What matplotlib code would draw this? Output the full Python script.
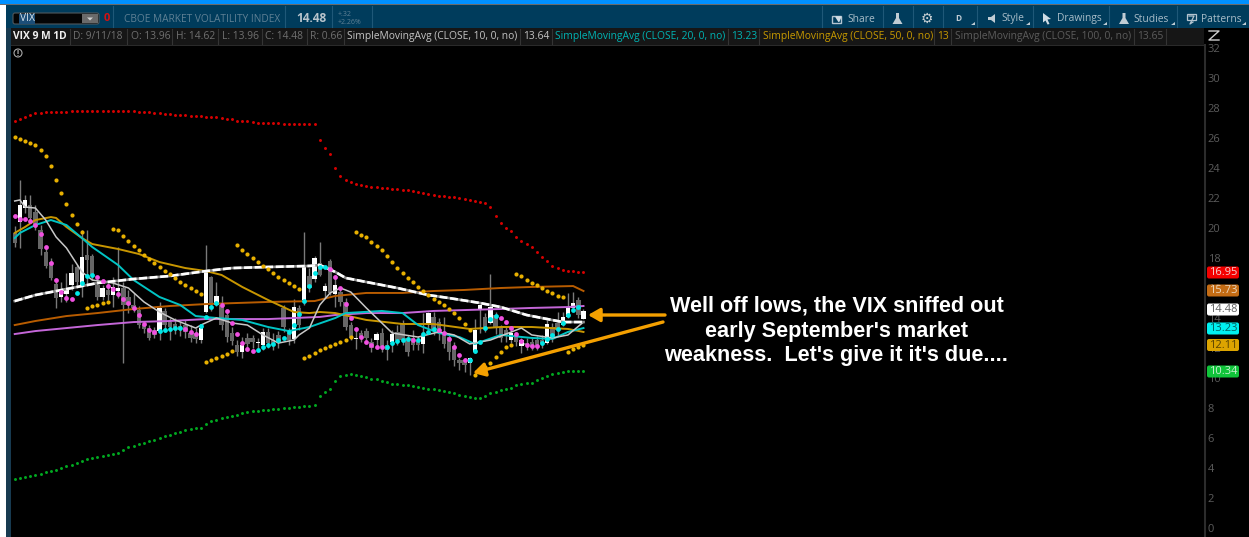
import matplotlib
matplotlib.use("Agg")
import matplotlib.pyplot as plt
from matplotlib.patches import Rectangle, FancyBboxPatch, Circle, Polygon

plt.rcParams['font.family'] = ['Open Sans', 'DejaVu Sans']

# Candles (VIX, daily)
candle_open = [19.67,20.4,21.33,21.53,21.07,19.87,18.4,17.73,16.27,15.4,15.6,16.2,17.4,16.2,18.2,18.13,16.2,15.4,15.87,15.53,
    15.8,16.0,15.4,14.87,14.53,13.53,13.33,13.2,13.13,14.47,13.73,13.6,13.47,13.53,13.0,13.0,12.53,14.4,16.73,14.87,
    14.87,14.2,13.0,12.2,11.73,12.67,12.67,12.33,12.2,13.07,12.53,12.87,14.67,13.0,12.6,14.67,15.2,16.8,16.6,17.67,
    15.8,17.8,15.6,15.73,15.07,13.53,12.6,13.0,13.13,12.4,12.53,13.0,12.2,12.4,13.07,13.67,12.67,12.67,12.53,12.27,
    13.67,14.07,13.73,13.07,12.73,12.13,11.2,11.2,11.0,11.73,14.53,14.07,13.67,14.2,13.33,13.2,12.53,12.87,12.13,12.33,
    12.4,12.53,12.53,12.33,13.4,13.67,13.53,14.07,14.67,15.2,13.96]
candle_high = [20.13,23.2,22.2,22.2,21.53,20.2,18.73,18.0,16.53,16.4,17.0,17.6,17.53,19.87,19.87,18.27,16.73,16.2,16.33,16.73,
    18.73,16.4,15.87,15.67,14.8,13.73,13.53,13.4,15.07,14.67,14.0,14.0,13.73,13.87,13.53,13.33,13.47,18.87,16.8,16.4,
    15.47,14.4,13.4,12.53,12.73,13.0,12.87,12.67,13.33,13.33,13.0,13.13,14.87,13.33,15.27,14.87,19.73,17.33,18.13,19.07,
    16.33,17.93,16.87,16.0,15.33,13.73,13.33,13.2,13.33,12.67,13.07,13.33,12.53,13.2,13.53,13.87,12.87,13.2,12.8,14.33,
    14.4,14.4,14.0,14.07,13.0,12.4,11.33,11.33,11.4,13.93,14.93,14.33,16.93,14.4,13.53,13.4,13.4,13.07,12.67,12.67,
    12.67,12.8,12.87,13.87,13.67,14.4,14.4,15.67,15.73,15.4,14.62]
candle_low = [18.73,18.67,21.0,20.4,19.87,18.2,17.33,16.53,14.67,15.07,15.07,15.87,16.07,15.4,16.2,16.53,15.2,15.2,15.2,14.73,
    15.33,11.0,14.33,14.4,13.33,13.0,12.53,12.67,12.53,13.07,12.53,12.93,12.8,12.67,12.4,12.33,12.33,14.33,14.47,14.8,
    13.2,12.4,12.2,11.47,11.33,11.87,12.0,11.73,11.87,12.0,11.87,12.0,13.07,12.2,12.33,13.2,14.87,15.73,16.4,16.8,
    15.33,15.53,14.73,14.8,13.2,12.53,11.93,12.4,12.33,11.73,12.0,11.73,11.2,11.73,12.2,12.2,11.47,11.87,11.87,11.67,
    13.2,12.87,12.53,12.0,11.2,10.8,10.53,10.4,10.2,11.67,13.0,13.07,13.6,12.93,12.4,12.4,12.33,12.13,11.67,11.87,
    11.87,11.87,12.0,12.27,12.4,12.8,13.47,14.0,14.53,14.0,13.96]
candle_close = [19.0,21.53,21.87,20.67,20.2,18.6,17.47,16.67,15.33,15.73,16.0,17.0,16.4,18.07,17.87,16.87,15.4,16.0,15.53,16.07,
    16.0,14.87,14.87,14.67,13.53,13.27,12.67,12.87,14.67,13.53,13.4,13.2,13.2,13.07,12.67,12.6,13.33,17.07,14.87,15.47,
    13.53,12.73,12.47,11.73,12.2,12.27,12.4,12.4,13.07,12.33,12.2,12.4,13.4,12.53,14.73,13.53,17.47,16.0,18.0,16.87,
    16.13,15.67,16.2,15.07,13.4,12.67,12.67,12.67,12.67,12.0,12.93,12.07,11.87,12.93,12.53,12.53,11.73,12.2,12.2,12.8,
    14.33,13.2,13.0,12.27,11.73,11.2,11.0,10.87,11.33,13.2,14.87,13.33,14.73,13.33,12.67,12.87,13.0,12.4,12.53,12.2,
    12.07,12.07,12.33,13.6,12.73,13.2,14.07,14.73,15.0,14.2,14.48]

# Dotted upper and lower bands, one value per bar
band_upper = [27.16,27.29,27.42,27.53,27.64,27.69,27.73,27.73,27.73,27.73,27.73,27.78,27.78,27.78,27.80,27.82,27.82,27.82,27.82,27.82,
    27.82,27.82,27.82,27.78,27.73,27.73,27.71,27.69,27.67,27.62,27.58,27.56,27.56,27.51,27.47,27.47,27.44,27.42,27.40,27.38,
    27.31,27.27,27.24,27.16,27.16,27.13,27.07,27.02,27.02,27.02,27.02,27.02,26.96,26.96,26.96,26.91,26.91,26.91,26.91,
    25.87,25.33,24.93,24.0,23.47,23.2,23.07,22.93,22.87,22.8,22.73,22.73,22.67,22.67,22.6,22.6,22.53,22.53,22.47,22.4,
    22.33,22.27,22.2,22.13,22.13,22.07,22.07,22.0,21.93,21.87,21.8,21.73,21.67,21.4,20.8,
    20.33,20.0,19.8,19.4,19.13,18.93,18.73,18.4,18.07,17.8,17.47,17.33,17.2,17.13,17.13,17.07,17.07]
band_lower = [3.27,3.33,3.40,3.47,3.53,3.60,3.73,3.80,3.87,4.00,4.13,4.20,4.33,4.47,4.60,4.67,4.73,4.80,4.87,4.93,
    5.00,5.20,5.40,5.47,5.60,5.67,5.80,5.87,6.00,6.13,6.20,6.33,6.40,6.53,6.60,6.67,6.67,6.93,7.13,7.20,
    7.33,7.40,7.47,7.53,7.67,7.73,7.80,7.80,7.87,7.87,7.93,7.93,8.0,8.0,8.07,8.07,8.13,8.13,8.2,
    8.8,9.07,9.27,9.8,10.13,10.2,10.27,10.2,10.13,10.07,9.93,9.93,9.8,9.73,9.6,9.6,9.53,9.53,9.47,9.4,
    9.33,9.27,9.27,9.2,9.13,9.07,9.0,8.87,8.8,8.73,8.67,8.67,8.8,9.0,9.07,9.2,9.27,9.33,9.53,9.6,
    9.67,9.67,9.87,10.0,10.13,10.27,10.33,10.4,10.47,10.47,10.47,10.47]

# Parabolic stop dots, one value per bar
stop_dots = [26.07,25.93,25.8,25.67,25.53,25.2,24.8,24.13,23.2,22.33,21.6,20.87,20.27,19.73,
    14.67,14.8,14.87,15.0,15.07,
    19.93,19.87,19.47,19.13,18.8,18.53,18.2,17.93,17.67,17.4,17.13,16.93,16.67,16.4,16.2,16.0,15.8,15.6,
    11.07,11.2,11.33,11.47,11.6,11.8,
    18.87,18.53,18.27,18.0,17.73,17.47,17.27,17.0,16.73,16.53,16.33,16.13,15.93,
    11.33,11.47,11.67,11.87,12.0,12.13,12.27,12.4,12.53,12.73,
    19.73,19.53,19.4,19.07,18.8,18.53,18.13,17.73,17.33,17.0,16.67,16.4,16.07,15.8,15.53,15.27,15.07,14.87,14.6,14.33,14.0,13.6,13.2,
    10.2,10.47,10.73,11.0,11.4,11.73,12.07,12.2,
    16.93,16.8,16.53,16.33,16.2,16.0,15.8,15.67,15.47,15.4,
    11.73,11.93,12.07,12.2]

# Pink and cyan dots on the candles
pink_bars = [*range(0, 12), *range(16, 28), 33, 34, 35, *range(40, 47), *range(61, 72), 77, *range(82, 88), *range(94, 102)]
pink_vals = [20.8,20.6,20.6,20.47,20.2,19.6,18.73,17.67,16.53,15.73,15.33,15.27,
    16.73,16.47,16.13,15.93,15.6,15.27,15.0,14.67,14.2,13.6,13.2,13.07,
    13.27,13.07,12.93,
    14.87,14.47,13.67,12.93,12.33,11.93,11.8,
    17.27,16.73,16.0,14.93,14.0,13.27,12.73,12.4,12.2,12.07,12.07,
    12.53,
    13.2,13.0,12.6,12.07,11.53,11.2,
    14.0,13.73,13.33,12.93,12.47,12.2,12.13,12.13]
cyan_bars = [*range(12, 16), *range(28, 33), *range(36, 40), *range(47, 61), *range(72, 77), *range(78, 82), *range(88, 94), *range(102, 110)]
cyan_vals = [15.67,16.33,16.8,16.87,
    13.13,13.2,13.27,13.33,13.33,
    13.47,14.07,14.73,15.0,
    11.87,12.07,12.2,12.27,12.53,12.67,13.07,13.53,14.27,15.13,16.13,17.0,17.4,17.4,
    12.07,12.33,12.47,12.53,12.6,
    12.53,12.93,13.07,13.27,
    11.2,11.8,12.4,13.33,13.93,14.13,
    12.33,12.6,12.87,13.27,13.67,14.2,14.53,14.73]

# Moving averages, read at a handful of bars each
sma10_bars = [0,1,2,4,6,8,10,13,15,19,22,25,28,31,35,36,39,42,45,48,51,54,55,57,59,61,63,65,68,73,78,82,85,88,92,98,100,104,107,110]
sma10_vals = [21.8,21.87,21.4,21.33,20.53,19.4,18.67,17.07,16.53,16.33,16.0,15.07,14.4,13.87,13.33,13.53,14.0,13.67,13.53,12.87,12.33,12.53,12.87,13.33,14.87,15.67,16.0,15.73,14.67,13.0,12.73,13.07,12.87,12.27,12.53,13.33,12.87,12.67,12.87,13.73]
sma20_bars = [0,1,4,7,10,13,15,20,23,28,32,35,39,44,49,53,57,62,64,71,75,78,82,86,89,94,100,104,107,110]
sma20_vals = [19.33,19.67,20.2,20.53,20.2,19.33,18.73,17.53,16.53,15.4,14.87,14.13,14.0,13.87,13.4,13.13,13.4,14.0,14.33,14.47,14.33,13.53,13.0,12.73,12.27,12.87,12.67,12.6,13.07,13.33]
sma50_bars = [0,2,4,7,8,10,13,15,20,24,28,33,37,40,44,49,54,57,59,62,68,75,81,88,94,100,107,110]
sma50_vals = [19.67,20.07,20.53,20.73,20.67,20.07,19.33,18.93,18.6,18.27,17.73,17.33,17.13,16.87,16.07,15.2,14.4,14.33,14.4,14.33,13.87,13.6,13.6,13.27,13.4,13.4,13.27,13.07]
sma100_bars = [0,4,10,16,23,30,37,42,49,57,59,62,64,68,74,80,84,90,94,99,103,106,110]
sma100_vals = [15.13,15.53,15.93,16.33,16.6,16.8,17.13,17.33,17.4,17.47,17.53,17.07,16.67,16.4,16.0,15.53,15.33,15.0,14.73,14.2,13.93,13.73,13.73]
orange_bars = [0,4,10,16,23,30,37,49,58,62,68,75,81,87,94,100,108,110]
orange_vals = [13.53,13.8,14.13,14.33,14.6,14.8,14.93,15.07,15.13,15.47,15.67,15.67,15.8,15.87,16.0,16.07,16.13,15.8]
purple_bars = [0,4,10,16,23,30,37,49,59,62,68,75,81,87,94,100,107,110]
purple_vals = [12.93,13.13,13.33,13.53,13.73,13.8,13.93,13.93,14.07,14.2,14.33,14.33,14.47,14.53,14.6,14.67,14.73,14.8]

# Price axis
price_ticks = list(range(0, 34, 2))

# Price tags on the right: text, box colour, text colour
tag_texts = ['16.95', '15.73', '14.48', '13.23', '12.11', '10.34']
tag_colors = ['#f40000', '#c46c14', '#ffffff', '#00f0f0', '#dca400', '#10c43a']
tag_text_colors = ['#f0d0d0', '#ecd8c0', '#606060', '#006060', '#5a4400', '#c8f0d0']
tag_y = [272.5, 290.5, 309.5, 328.5, 345, 371.5]

# Study labels in the row above the chart: text, left edge, colour
info_texts = ['D: 9/11/18', 'O: 13.96', 'H: 14.62', 'L: 13.96', 'C: 14.48', 'R: 0.66',
    'SimpleMovingAvg (CLOSE, 10, 0, no)', '13.64', 'SimpleMovingAvg (CLOSE, 20, 0, no)', '13.23',
    'SimpleMovingAvg (CLOSE, 50, 0, no)', '13', 'SimpleMovingAvg (CLOSE, 100, 0, no)', '13.65']
info_x = [73, 131, 176, 222, 265, 310, 347, 523, 555, 731, 763, 937, 955, 1137]
info_colors = ['#707070'] * 6 + ['#c4c4c4', '#c4c4c4', '#00b4b4', '#00b4b4', '#c89a00', '#c89a00', '#5c5c5c', '#5c5c5c']

W, H = 1249, 537
fig = plt.figure(figsize=(W / 100, H / 100), dpi=100, facecolor='black')

# Main chart
left, right, top, bottom = 11, 1205, 45, 537
ax = fig.add_axes([left / W, 1 - bottom / H, (right - left) / W, (bottom - top) / H])
ax.set_facecolor('black')
ax.set_xlim(-0.72, 230.2)
ax.set_ylim(-0.6, 32.2)

bars = list(range(len(candle_close)))
ax.vlines(bars, candle_low, candle_high, color='#7a7a7a', lw=1, zorder=2)
for i in bars:
    up = candle_close[i] >= candle_open[i]
    ax.bar(i, abs(candle_close[i] - candle_open[i]), bottom=min(candle_open[i], candle_close[i]),
           width=0.85, color='white' if up else '#666666', zorder=3)

ax.plot(orange_bars, orange_vals, color='#b85c00', lw=1.4, zorder=4)
ax.plot(purple_bars, purple_vals, color='#c466d8', lw=1.4, zorder=4)
ax.plot(sma50_bars, sma50_vals, color='#c89600', lw=1.4, zorder=4)
ax.plot(sma20_bars, sma20_vals, color='#00c4c4', lw=1.4, zorder=4)
ax.plot(sma10_bars, sma10_vals, color='#c8c8c8', lw=1.1, zorder=4)
ax.plot(sma100_bars, sma100_vals, color='#8c8c8c', lw=1.9, zorder=4)
ax.plot(sma100_bars, sma100_vals, color='white', lw=1.9, ls=(0, (3, 1)), zorder=4)

ax.scatter(bars, band_upper, s=4.5, color='#d80000', linewidths=0, zorder=5)
ax.scatter(bars, band_lower, s=4.5, color='#00a820', linewidths=0, zorder=5)
ax.scatter(bars, stop_dots, s=9, color='#e8b000', linewidths=0, zorder=5)
ax.scatter(pink_bars, pink_vals, s=12, color='#f050e0', linewidths=0, zorder=6)
ax.scatter(cyan_bars, cyan_vals, s=12, color='#00e8e8', linewidths=0, zorder=6)

ax.set_xticks([])
ax.yaxis.tick_right()
ax.set_yticks(price_ticks)
ax.tick_params(axis='y', length=0, pad=2, labelsize=8, labelcolor='#5c5c5c')
for s in ['top', 'left', 'bottom']:
    ax.spines[s].set_visible(False)
ax.spines['right'].set_color('#2c2c2c')
ax.spines['right'].set_linewidth(1.5)

# Everything else sits on a pixel-sized overlay
ui = fig.add_axes([0, 0, 1, 1], zorder=10)
ui.set_xlim(0, W)
ui.set_ylim(H, 0)
ui.axis('off')
ui.patch.set_alpha(0)


def box(x0, y0, x1, y1, color, z=1):
    ui.add_patch(Rectangle((x0, y0), x1 - x0, y1 - y0, facecolor=color, edgecolor='none', zorder=z))


def label(x, y, s, color, size=7.4, ha='left', **kw):
    ui.text(x, y, s, color=color, fontsize=size, ha=ha, va='center', zorder=5, **kw)


# Window edges and top bands
box(0, 4, 6, H, 'white')
box(6, 28, 11, H, '#173a50')
box(0, 0, W, 4, '#0090ff')
box(0, 4, W, 5, '#6a6a6a')
box(6, 5, W, 28, '#003c5c')
box(11, 28, 1204, 45, '#161616')
box(11, 45, 1204, 46, '#2a2a2a')

# Symbol box and header text
ui.add_patch(FancyBboxPatch((13, 13), 86, 11, boxstyle='round,pad=0,rounding_size=2', facecolor='#050505', edgecolor='#50585c', lw=0.8, zorder=2))
box(19, 14, 35, 24, '#1c4e78', 3)
label(20, 18.7, 'VIX', '#d8e4ec', size=7.4)
box(82, 14, 98, 23, '#6a6a6a', 3)
ui.add_patch(Polygon([[87, 17.5], [93, 17.5], [90, 20.5]], facecolor='#d0d0d0', zorder=4))
label(107, 18.5, '0', '#d81010', size=8, ha='center', fontweight='bold')
label(124, 19, 'CBOE MARKET VOLATILITY INDEX', '#5f8094', size=7.3)
label(296, 19, '14.48', '#b8c4cc', size=8.6, fontweight='bold')
label(338, 14.5, '+.32', '#5f8094', size=5)
label(338, 22, '+2.26%', '#5f8094', size=5)
for x in [113, 285, 332, 372, 822, 883, 913, 943, 977, 1033, 1109, 1177]:
    ui.plot([x, x], [6, 27], color='#1f5878', lw=0.8, zorder=2)

# Toolbar
label(847, 19, 'Share', '#a8bcc8')
label(1001, 19, 'Style', '#a8bcc8')
label(1057, 19, 'Drawings', '#a8bcc8')
label(1133, 19, 'Studies', '#a8bcc8')
label(1201, 19, 'Patterns', '#a8bcc8')
label(958, 18.5, 'D', '#c0ccd4', size=6, ha='center', fontweight='bold')
label(927, 18.5, '\u2699', '#c8d0d4', size=10, ha='center', family='DejaVu Sans')
for x in [973, 1028, 1105, 1173, 1244]:
    ui.add_patch(Polygon([[x - 2, 25], [x + 2, 25], [x + 2, 21.5]], facecolor='#c0ccd4', zorder=4))
for x in [897.5, 1124]:
    # flask icons
    ui.add_patch(Polygon([[x - 1.5, 13], [x + 1.5, 13], [x + 1.5, 18], [x + 5, 24], [x - 5, 24], [x - 1.5, 18]],
                         facecolor='#c0ccd4', zorder=4))
ui.add_patch(Rectangle((832.5, 16), 9, 7, facecolor='none', edgecolor='#b4c4d0', lw=1, zorder=4))
ui.annotate('', xy=(844, 15), xytext=(836, 20), arrowprops=dict(arrowstyle='-|>,head_length=0.25,head_width=0.18', color='#d0dce4', lw=1.2), zorder=5)
ui.add_patch(Polygon([[1043, 13], [1051, 19], [1047.5, 19.5], [1049.5, 24], [1047.5, 24.5], [1045.5, 20.5], [1043, 22.5]], facecolor='#d0dce4', zorder=4))
ui.add_patch(Polygon([[988, 17], [991, 17], [995, 14], [995, 23], [991, 20], [988, 20]], facecolor='#c0ccd4', zorder=4))
ui.add_patch(Rectangle((1187.5, 13.5), 8.5, 6, facecolor='none', edgecolor='#b4c4d0', lw=0.9, zorder=4))
ui.plot([1189, 1194, 1190, 1193], [16, 16, 24, 22], color='#b4c4d0', lw=0.9, zorder=4)

# Study row
label(13, 36.5, 'VIX 9 M 1D', '#f0f0f0', size=7.4, fontweight='bold')
for s, x, c in zip(info_texts, info_x, info_colors):
    label(x, 36.5, s, c)
for x in [70, 127, 172, 218, 262, 307, 344, 520, 552, 728, 759, 934, 951, 1134, 1166]:
    ui.plot([x, x], [29, 44], color='#343434', lw=0.8, zorder=2)

# Info marker and zoom icon
ui.add_patch(Circle((18, 53), 4, facecolor='none', edgecolor='#a8a8a8', lw=0.8, zorder=4))
label(18, 53, '!', '#b8b8b8', size=5.5, ha='center', fontweight='bold')
ui.plot([1209, 1219, 1209, 1219], [31, 31, 40, 40], color='#d0d0d0', lw=1, zorder=4)

# Price tags
for s, c, tc, y in zip(tag_texts, tag_colors, tag_text_colors, tag_y):
    ui.add_patch(FancyBboxPatch((1207, y - 6), 32, 12, boxstyle='round,pad=0,rounding_size=2', facecolor=c, edgecolor='none', zorder=4))
    label(1223, y, s, tc, size=8, ha='center')

# Comment and arrows
ui.text(836.5, 331, "Well off lows, the VIX sniffed out\nearly September's market\nweakness.  Let's give it it's due....",
        color='white', fontsize=15.6, family='Liberation Sans', fontweight='bold', ha='center', va='center',
        linespacing=1.24, zorder=6)
arrow = dict(arrowstyle='-|>,head_length=0.7,head_width=0.4', color='#f4a000', lw=2.4, shrinkA=0, shrinkB=0)
ui.annotate('', xy=(588, 315), xytext=(665, 315), arrowprops=arrow, zorder=6)
ui.annotate('', xy=(473, 373), xytext=(663, 322), arrowprops=arrow, zorder=6)

fig.savefig('out.png', dpi=100, facecolor='black')
